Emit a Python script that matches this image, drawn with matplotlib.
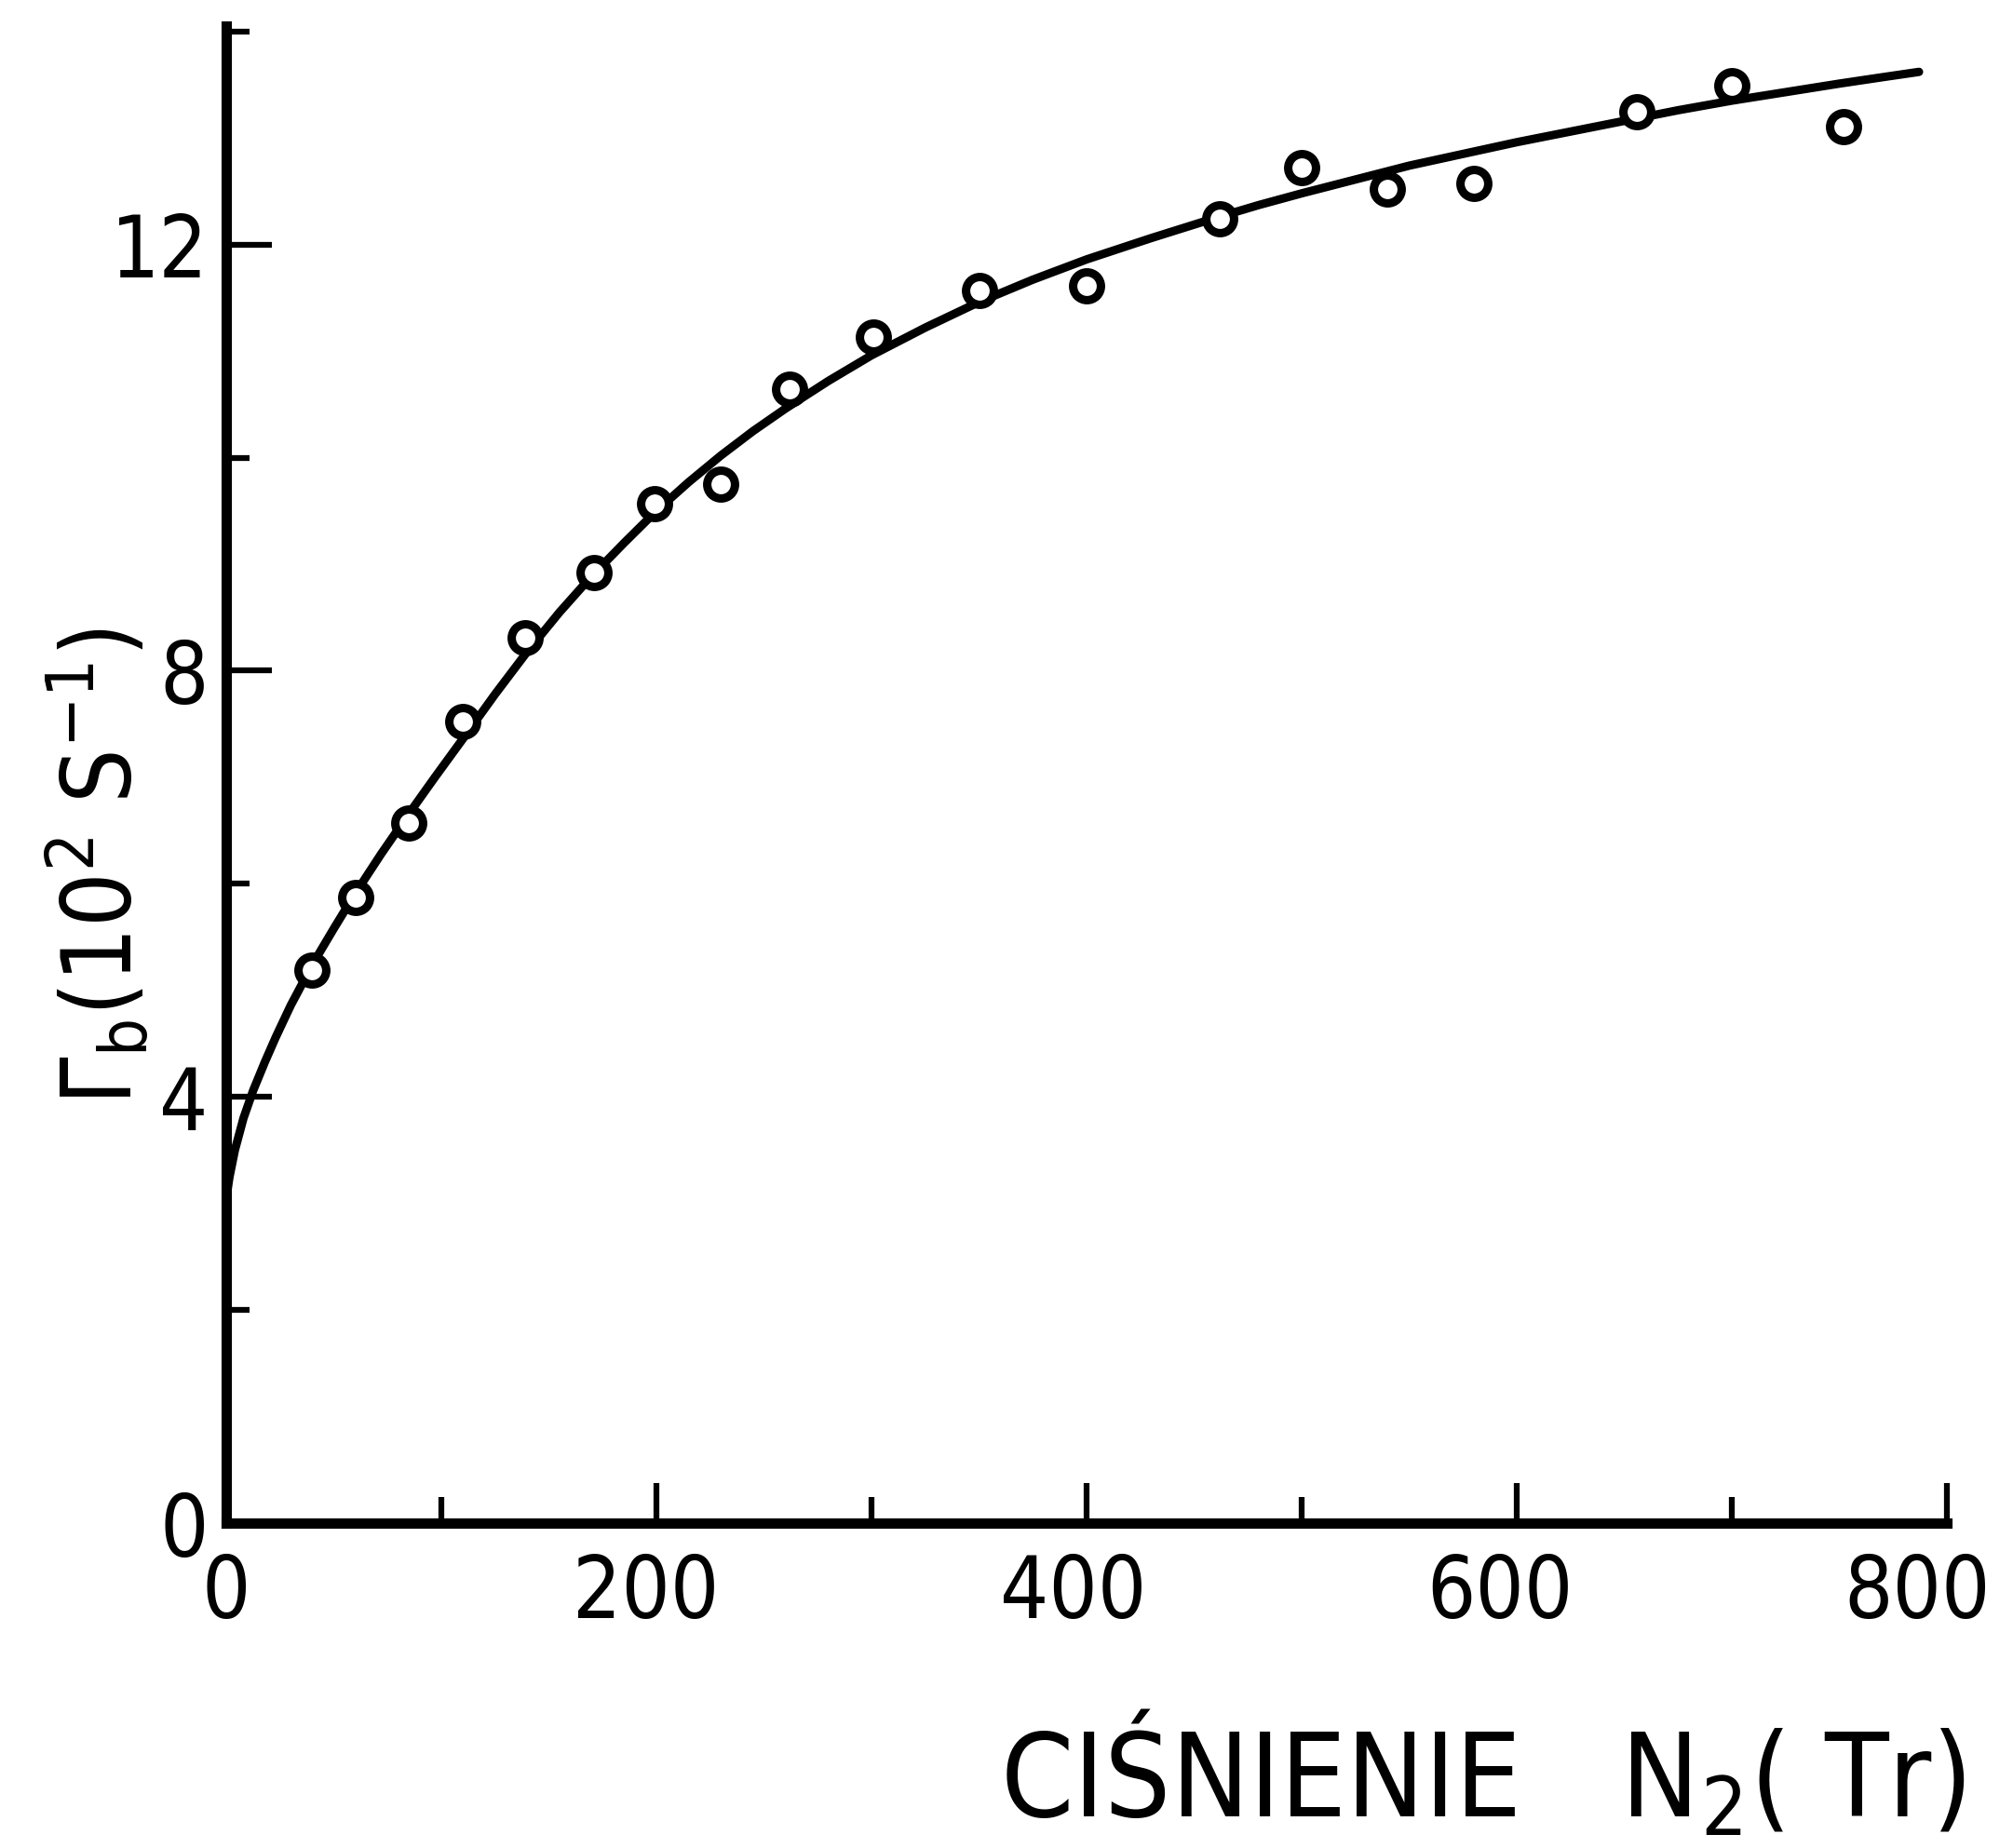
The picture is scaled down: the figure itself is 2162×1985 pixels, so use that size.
import matplotlib
matplotlib.use("Agg")
import matplotlib.pyplot as plt
from matplotlib.ticker import MultipleLocator
import matplotlib.transforms as mtransforms

plt.rcParams['font.family'] = ['DejaVu Sans']
plt.rcParams['font.stretch'] = 'condensed'
plt.rcParams['mathtext.fontset'] = 'dejavusans'

# measured points: N2 pressure (Tr) vs Gamma_b (10^2 s^-1)
pressure = [40, 60, 85, 110, 139, 171, 199, 230, 262, 301, 350, 400, 462, 500, 540, 580, 656, 700, 752]
gamma_b = [5.19, 5.87, 6.57, 7.52, 8.31, 8.92, 9.57, 9.75, 10.64, 11.13, 11.57, 11.61, 12.24, 12.72, 12.52, 12.57, 13.25, 13.49, 13.11]

# fitted curve
curve_x = [0, 1.5, 4, 8, 12.5, 18, 23, 30, 40, 50, 60, 72, 85, 97, 110, 125, 140, 155, 170, 185,
           200, 215, 230, 245, 260, 280, 300, 325, 350, 375, 400, 430, 460, 480, 500, 525, 550,
           575, 600, 625, 650, 675, 700, 725, 750, 770, 787]
curve_y = [3.05, 3.25, 3.5, 3.8, 4.06, 4.33, 4.56, 4.86, 5.24, 5.58, 5.91, 6.28, 6.66, 7.0, 7.36,
           7.78, 8.18, 8.55, 8.89, 9.2, 9.5, 9.77, 10.02, 10.25, 10.46, 10.72, 10.96, 11.22, 11.46,
           11.67, 11.86, 12.06, 12.25, 12.37, 12.48, 12.61, 12.74, 12.85, 12.96, 13.06, 13.16,
           13.26, 13.35, 13.43, 13.51, 13.57, 13.62]

x_ticks = [0, 200, 400, 600, 800]
y_ticks = [0, 4, 8, 12]

fig = plt.figure(figsize=(21.62, 19.85), dpi=100)
ax = fig.add_axes([0.1124, 0.1758, 0.9672 - 0.1124, 0.9859 - 0.1758])

ax.plot(curve_x, curve_y, color='black', lw=6.5, solid_capstyle='round', solid_joinstyle='round')
ax.plot(pressure, gamma_b, 'o', ms=21.5, mfc='white', mec='black', mew=6.5)

ax.set_xlim(0, 800)
ax.set_ylim(0, 14.05)
for s in ['top', 'right']:
    ax.spines[s].set_visible(False)
for s in ['left', 'bottom']:
    ax.spines[s].set_linewidth(8)
    ax.spines[s].set_capstyle('projecting')

ax.set_xticks(x_ticks)
ax.set_yticks(y_ticks)
ax.set_xticklabels([str(v) for v in x_ticks])
ax.set_yticklabels([str(v) for v in y_ticks])
ax.xaxis.set_minor_locator(MultipleLocator(100))
ax.yaxis.set_minor_locator(MultipleLocator(2))
ax.tick_params(axis='x', which='major', direction='in', length=31, width=4.5, pad=22, labelsize=66)
ax.tick_params(axis='x', which='minor', direction='in', length=20, width=4.5)
ax.tick_params(axis='y', which='major', direction='in', length=35, width=4.5, pad=14, labelsize=66)
ax.tick_params(axis='y', which='minor', direction='in', length=18, width=4.5)

# hand-lettered labels sit slightly left of their ticks
shifts = [0, -11, -14, -18, -32]
for lbl, dx in zip(ax.get_xticklabels(), shifts):
    lbl.set_transform(lbl.get_transform() + mtransforms.ScaledTranslation(dx / 100, 0, fig.dpi_scale_trans))

fig.text(0.976, 0.039, 'CIŚNIENIE   N$_2$( Tr)', ha='right', va='center', fontsize=90)
fig.text(0.049, 0.531, r'$\Gamma_{\rm b}$(10$^2$ S$^{-1}$)', ha='center', va='center', rotation=90, fontsize=74)

fig.savefig('out.png', dpi=100, facecolor='white')
